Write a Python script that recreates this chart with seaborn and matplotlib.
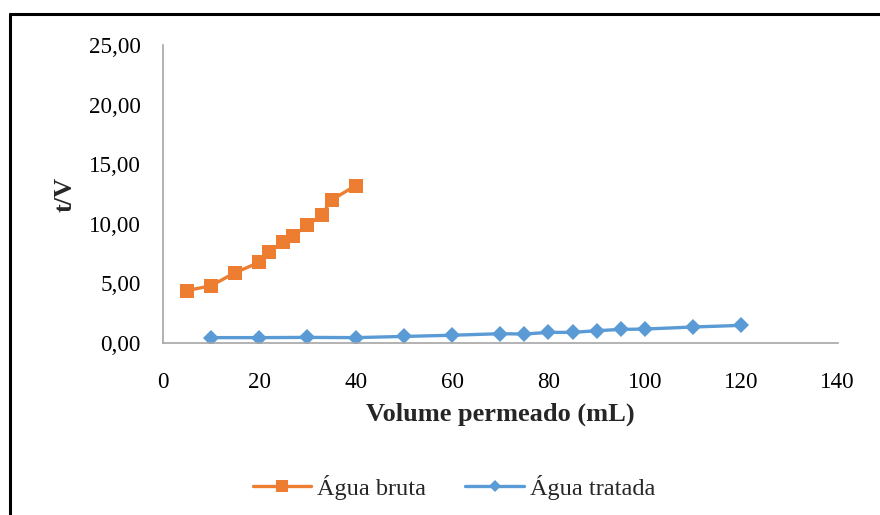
import matplotlib
matplotlib.use("Agg")
import matplotlib.pyplot as plt
import seaborn as sns
import pandas as pd
from matplotlib.lines import Line2D
from matplotlib.ticker import FuncFormatter, MultipleLocator

# Data
bruta_x = [5, 10, 15, 20, 22, 25, 27, 30, 33, 35, 40]
bruta_y = [4.40, 4.80, 5.90, 6.77, 7.60, 8.50, 9.00, 9.87, 10.76, 12.00, 13.20]
tratada_x = [10, 20, 30, 40, 50, 60, 70, 75, 80, 85, 90, 95, 100, 110, 120]
tratada_y = [0.45, 0.45, 0.47, 0.45, 0.55, 0.65, 0.78, 0.75, 0.89, 0.89, 1.03, 1.14, 1.17, 1.34, 1.48]
series_names = ["Água bruta", "Água tratada"]
colors = ["#ED7D31", "#5B9BD5"]

sns.set_theme(style="white")
plt.rcParams['font.family'] = ['Liberation Serif', 'DejaVu Serif']

fig = plt.figure(figsize=(8.8, 5.15), dpi=100)
ax = fig.add_axes([0.185, 0.334, 0.767, 0.5786])

df_b = pd.DataFrame({"x": bruta_x, "y": bruta_y})
df_t = pd.DataFrame({"x": tratada_x, "y": tratada_y})
sns.lineplot(data=df_b, x="x", y="y", ax=ax, color=colors[0], marker="s",
             markersize=10, markeredgewidth=0, linewidth=2.4)
sns.lineplot(data=df_t, x="x", y="y", ax=ax, color=colors[1], marker="D",
             markersize=8, markeredgewidth=0, linewidth=2.4)

ax.set_xlim(0, 140)
ax.set_ylim(0, 25)
ax.xaxis.set_major_locator(MultipleLocator(20))
ax.yaxis.set_major_locator(MultipleLocator(5))
ax.yaxis.set_major_formatter(FuncFormatter(lambda v, p: f"{v:.2f}".replace(".", ",")))
ax.tick_params(axis="both", length=0, labelsize=16.6, colors="#000000")
ax.tick_params(axis="y", pad=16)
ax.tick_params(axis="x", pad=21)

for s in ["top", "right"]:
    ax.spines[s].set_visible(False)
for s in ["left", "bottom"]:
    ax.spines[s].set_color("#A6A6A6")
    ax.spines[s].set_linewidth(1.2)

ax.set_xlabel("Volume permeado (mL)", fontsize=19, fontweight="bold", labelpad=7)
ax.set_ylabel("t/V", fontsize=19, fontweight="bold", labelpad=9)

handles = [Line2D([], [], color=colors[0], marker="s", markersize=8, markeredgewidth=0, linewidth=2.4),
           Line2D([], [], color=colors[1], marker="D", markersize=6, markeredgewidth=0, linewidth=2.4)]
fig.legend(handles, series_names, loc="center", bbox_to_anchor=(0.516, 0.054), ncol=2,
           frameon=False, fontsize=17.5, handlelength=2.4, columnspacing=1.6, handletextpad=0.25)

# Frame (top and left edges)
fig.add_artist(Line2D([10/880, 1.0], [1 - 14/515, 1 - 14/515], color="black", linewidth=2.2,
                      transform=fig.transFigure))
fig.add_artist(Line2D([10/880, 10/880], [0, 1 - 14/515], color="black", linewidth=2.2,
                      transform=fig.transFigure))

fig.savefig("out.png", dpi=100, facecolor="white")
